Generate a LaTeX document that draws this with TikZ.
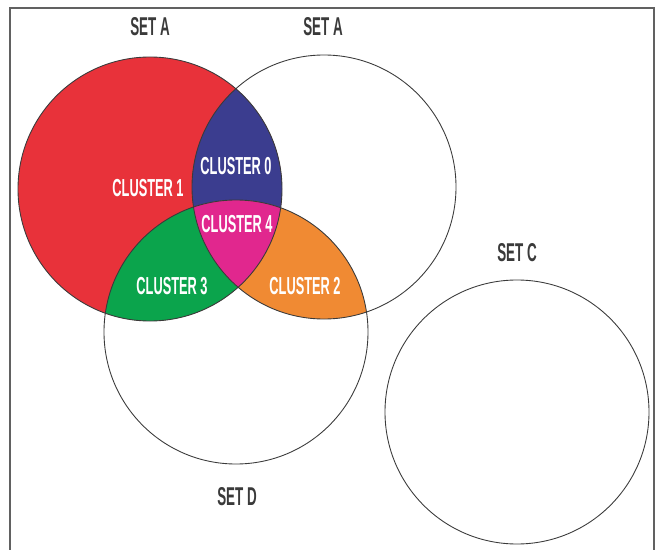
\documentclass[tikz,border=0pt]{standalone}
\usepackage{fontspec}
\newfontfamily\vennfont[FakeStretch=0.52]{Liberation Sans}
\definecolor{clred}{HTML}{E8323A}
\definecolor{clblue}{HTML}{3B3D8F}
\definecolor{clgreen}{HTML}{0BA44C}
\definecolor{clorange}{HTML}{F08A33}
\definecolor{clpink}{HTML}{E1278E}
\definecolor{rim}{HTML}{3A3A3A}
\tikzset{
  setline/.style={draw=rim, line width=0.75pt},
  setlabel/.style={text=rim, font=\vennfont\bfseries\fontsize{22}{22}\selectfont},
  clusterlabel/.style={text=white, font=\vennfont\bfseries\fontsize{21}{21}\selectfont}
}
\begin{document}
\begin{tikzpicture}
            \useasboundingbox (0,0) rectangle (19.83,16.47);
            % Rahmen
            \draw[rim!80, line width=1.1pt] (0.30,-0.2) |- (19.62,16.23) -- (19.62,-0.2);
            % Mittelpunkte
            \coordinate (A1) at (4.50,10.80);
            \coordinate (A2) at (9.72,10.86);
            \coordinate (D) at (7.08,6.51);
            \coordinate (C) at (15.51,4.11);
            \def\rad{3.96}
            % Flaechen
            \fill[clred] (A1) circle (\rad);
            \begin{scope}
              \clip (A1) circle (\rad);
              \fill[clblue] (A2) circle (\rad);
              \fill[clgreen] (D) circle (\rad);
            \end{scope}
            \begin{scope}
              \clip (A2) circle (\rad);
              \fill[clorange] (D) circle (\rad);
            \end{scope}
            \begin{scope}
              \clip (A1) circle (\rad);
              \clip (A2) circle (\rad);
              \fill[clpink] (D) circle (\rad);
            \end{scope}
            % Kreise
            \draw[setline] (A1) circle (\rad);
            \draw[setline] (A2) circle (\rad);
            \draw[setline] (D) circle (\rad);
            \draw[setline] (C) circle (\rad);
            % Mengen
            \node[setlabel] (setA1) at (4.50,15.68) {SET A};
            \node[setlabel] (setA2) at (9.69,15.68) {SET A};
            \node[setlabel] (setC) at (15.51,8.90) {SET C};
            \node[setlabel] (setD) at (7.11,1.56) {SET D};
            % Cluster
            \node[clusterlabel] (cl1) at (4.44,10.83) {CLUSTER 1};
            \node[clusterlabel] (cl0) at (7.08,11.49) {CLUSTER 0};
            \node[clusterlabel] (cl4) at (7.11,9.75) {CLUSTER 4};
            \node[clusterlabel] (cl3) at (5.16,7.89) {CLUSTER 3};
            \node[clusterlabel] (cl2) at (9.15,7.89) {CLUSTER 2};
\end{tikzpicture}
\end{document}
